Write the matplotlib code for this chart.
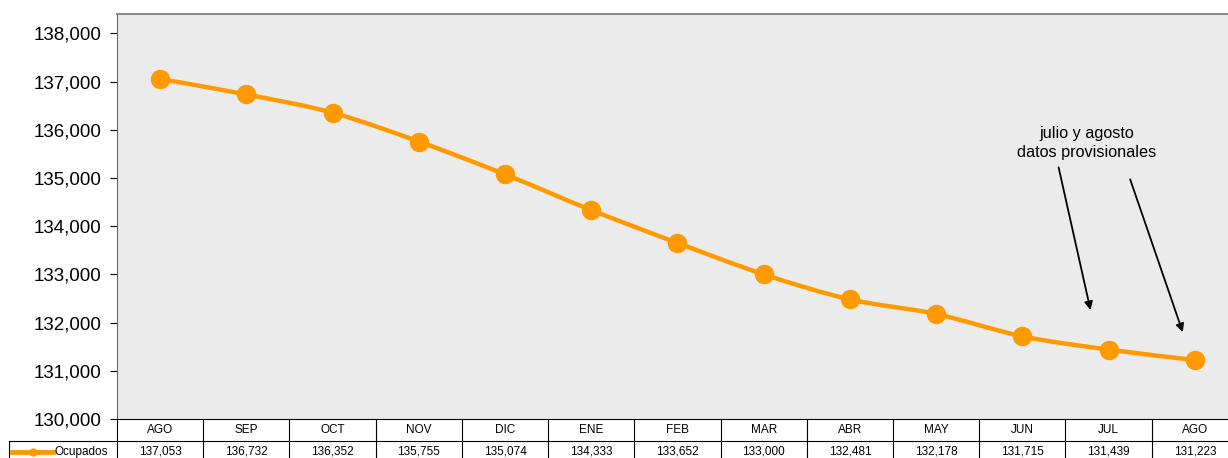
import matplotlib
matplotlib.use("Agg")
import matplotlib.pyplot as plt
import numpy as np
from matplotlib.path import Path
from matplotlib.patches import PathPatch
from matplotlib.ticker import FuncFormatter

# data
months = ["AGO", "SEP", "OCT", "NOV", "DIC", "ENE", "FEB",
          "MAR", "ABR", "MAY", "JUN", "JUL", "AGO"]
ocupados = [137053, 136732, 136352, 135755, 135074, 134333, 133652,
            133000, 132481, 132178, 131715, 131439, 131223]
series_label = "Ocupados"
note_text = "julio y agosto\ndatos provisionales"

ORANGE = "#FF9900"
plt.rcParams["font.family"] = ["Liberation Sans", "DejaVu Sans"]

fig = plt.figure(figsize=(12.28, 4.58), dpi=100)
ax = fig.add_axes([0.0953, 0.0852, 0.9128, 0.8842])
ax.set_facecolor("#ebebeb")

x = np.arange(len(ocupados))
y = np.array(ocupados, dtype=float)

# smoothed line (cubic bezier through the points, like excel "smooth line")
verts = [(x[0], y[0])]
codes = [Path.MOVETO]
for i in range(len(x) - 1):
    x0, y0 = (x[i - 1], y[i - 1]) if i > 0 else (x[i], y[i])
    x3, y3 = (x[i + 2], y[i + 2]) if i + 2 < len(x) else (x[i + 1], y[i + 1])
    c1 = (x[i] + (x[i + 1] - x0) / 6, y[i] + (y[i + 1] - y0) / 6)
    c2 = (x[i + 1] - (x3 - x[i]) / 6, y[i + 1] - (y3 - y[i]) / 6)
    verts += [c1, c2, (x[i + 1], y[i + 1])]
    codes += [Path.CURVE4] * 3
ax.add_patch(PathPatch(Path(verts, codes), facecolor="none",
                       edgecolor=ORANGE, lw=3.2, zorder=3))
ax.plot(x, y, ls="none", marker="o", ms=13, color=ORANGE, zorder=4)

ax.set_xlim(-0.5, len(x) - 0.5)
ax.set_ylim(130000, 138400)
ax.set_yticks(np.arange(130000, 138001, 1000))
ax.yaxis.set_major_formatter(FuncFormatter(lambda v, p: f"{int(v):,}"))
ax.tick_params(axis="y", direction="out", length=5, width=0.8,
               labelsize=13.5, pad=6)
ax.set_xticks([])
ax.spines["right"].set_visible(False)
ax.spines["top"].set_color("#8c8c8c")
ax.spines["top"].set_linewidth(1.5)
ax.spines["left"].set_color("#666666")
ax.spines["bottom"].set_color("black")
ax.spines["bottom"].set_linewidth(0.8)

# annotation
ax.text(10.75, 135720, note_text, ha="center", va="center",
        fontsize=11.7, linespacing=1.3)
arrow = dict(arrowstyle="-|>", color="black", lw=1.3,
             mutation_scale=12, shrinkA=0, shrinkB=0)
ax.annotate("", xy=(10.79, 132260), xytext=(10.42, 135220),
            arrowprops=arrow)
ax.annotate("", xy=(11.86, 131800), xytext=(11.25, 134970),
            arrowprops=arrow)

# data table under the axes
row_h = 22 / 405
tr = ax.get_xaxis_transform()
lab_left = -1.75
for k in range(len(x) + 1):
    ax.plot([k - 0.5, k - 0.5], [0, -2 * row_h - 0.05], transform=tr,
            color="black", lw=0.8, clip_on=False)
ax.plot([lab_left, lab_left], [-row_h, -2 * row_h - 0.05], transform=tr,
        color="black", lw=0.8, clip_on=False)
ax.plot([lab_left, len(x) - 0.5], [-row_h, -row_h], transform=tr,
        color="black", lw=0.8, clip_on=False)
for xi, m, v in zip(x, months, ocupados):
    ax.text(xi, -row_h / 2, m, transform=tr, ha="center", va="center",
            fontsize=8.5)
    ax.text(xi, -1.5 * row_h, f"{v:,}", transform=tr, ha="center",
            va="center", fontsize=8.5)
ax.plot([-1.72, -1.24], [-1.5 * row_h] * 2, transform=tr, color=ORANGE,
        lw=3.5, clip_on=False)
ax.plot([-1.48], [-1.5 * row_h], transform=tr, marker="o", ms=5,
        color=ORANGE, clip_on=False)
ax.text(-1.22, -1.5 * row_h, series_label, transform=tr, ha="left",
        va="center", fontsize=8.5)

fig.savefig("out.png", dpi=100)
